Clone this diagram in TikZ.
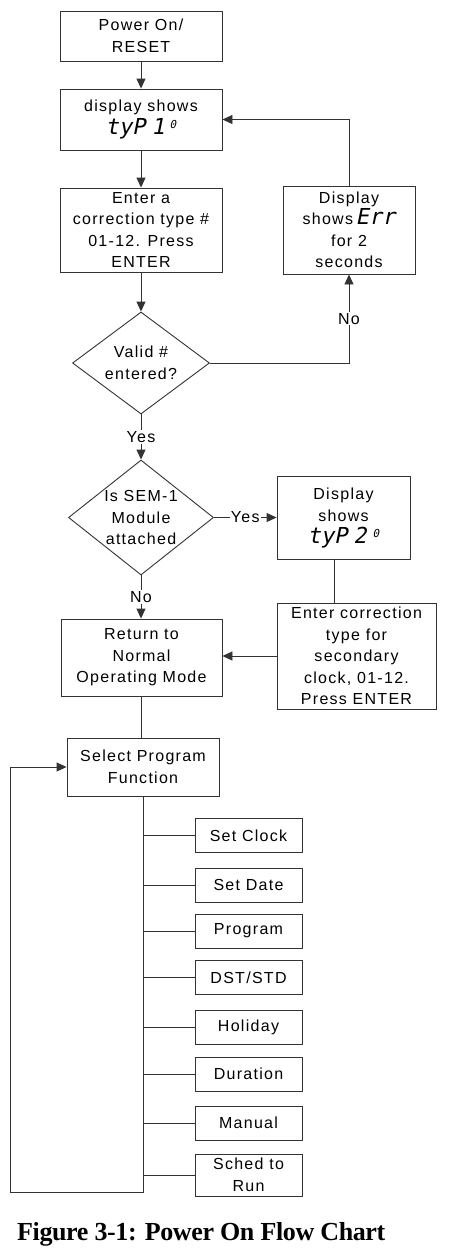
\documentclass[tikz,border=0pt]{standalone}
\usepackage{fontspec}
\setmainfont{Liberation Sans}
\newfontfamily\boxfont{Liberation Sans}[LetterSpace=8]
\newfontfamily\segfont{DejaVu Sans Mono}[FakeSlant=0.2]
\newfontfamily\capfont{Liberation Serif}[LetterSpace=-1.5]
\usetikzlibrary{shapes.geometric,arrows.meta,calc}
\definecolor{linec}{HTML}{333333}
\newcommand{\segtxt}[1]{{\segfont\fontsize{22}{22}\selectfont #1}}
\newcommand{\segsup}{\raisebox{6pt}{\segfont\fontsize{11}{11}\selectfont 0}}
\tikzset{
  box/.style={draw=linec, line width=0.9pt, rectangle, align=center,
    font=\boxfont\fontsize{16}{21.5}\selectfont, inner sep=0pt},
  dia/.style={draw=linec, line width=0.9pt, diamond, inner sep=0pt},
  arr/.style={draw=linec, line width=0.9pt, -{Triangle[length=10pt,width=9pt]}},
  con/.style={draw=linec, line width=0.9pt},
  lab/.style={fill=white, inner sep=1pt, font=\boxfont\fontsize{16}{18}\selectfont},
  fbox/.style={box, minimum width=107pt, minimum height=34pt}
}
\begin{document}
\begin{tikzpicture}[x=1pt,y=-1pt]
\useasboundingbox (0,0) rectangle (449,1256);
\fill[white] (0,0) rectangle (449,1256);
% main column
\node[box, minimum width=162pt, minimum height=50pt] (power) at (141,36) {Power On/\\RESET};
\node[box, minimum width=162pt, minimum height=61pt] (disp1) at (141,119.5)
  {display shows\\[1pt]\segtxt{tyP\hspace{6pt}1}\hspace{5pt}\segsup};
\node[box, minimum width=162pt, minimum height=84pt] (enter) at (141,230)
  {Enter a\\correction type \#\\01-12. Press\\ENTER};
\node[box, minimum width=132pt, minimum height=88pt] (err) at (349,230)
  {Display\\shows\,\segtxt{Err}\\for 2\\seconds};
\node[dia, minimum width=137pt, minimum height=102pt,
  label={[align=center, font=\boxfont\fontsize{16}{21.5}\selectfont]center:Valid \#\\entered?}] (valid) at (141,363) {};
\node[dia, minimum width=145pt, minimum height=115pt,
  label={[align=center, font=\boxfont\fontsize{16}{21.5}\selectfont]center:Is SEM-1\\Module\\attached}] (sem) at (141,517.5) {};
\node[box, minimum width=133pt, minimum height=83pt] (disp2) at (343.5,518)
  {Display\\shows\\[1pt]\segtxt{tyP\hspace{6pt}2}\hspace{6pt}\segsup};
\node[box, minimum width=159pt, minimum height=106pt] (corr) at (356.5,656)
  {Enter correction\\type for\\secondary\\clock, 01-12.\\Press ENTER};
\node[box, minimum width=161pt, minimum height=77pt] (ret) at (141.5,657.5)
  {Return to\\Normal\\Operating Mode};
\node[box, minimum width=152pt, minimum height=58pt] (sel) at (143,767)
  {Select Program\\Function};
% function boxes
\node[fbox] (f1) at (248.5,835.5) {Set Clock};
\node[fbox] (f2) at (248.5,885) {Set Date};
\node[fbox] (f3) at (248.5,931) {Program};
\node[fbox] (f4) at (248.5,977.5) {DST/STD};
\node[fbox] (f5) at (248.5,1027) {Holiday};
\node[fbox] (f6) at (248.5,1074) {Duration};
\node[fbox] (f7) at (248.5,1123) {Manual};
\node[box, minimum width=107pt, minimum height=42pt] (f8) at (248.5,1175) {Sched to\\Run};
% connectors
\draw[arr] (power) -- (disp1);
\draw[arr] (disp1) -- (enter);
\draw[arr] (enter) -- (valid);
\draw[arr] (valid.east) -| node[lab, pos=0.75] {No} (err.south);
\draw[arr] (err.north) |- (disp1.east);
\draw[arr] (valid.south) -- node[lab] {Yes} (sem.north);
\draw[arr] (sem.east) -- node[lab] {Yes} (sem.east -| disp2.west);
\draw[con] ([xshift=-9.5pt]disp2.south) -- ([xshift=-9.5pt]disp2.south |- corr.north);
\draw[arr] (sem.south) -- node[lab] {No} (sem.south |- ret.north);
\draw[arr] (corr.west) -- (corr.west -| ret.east);
\draw[con] (ret.south) -- (ret.south |- sel.north);
\coordinate (bot) at (143,1192);
\coordinate (lft) at (10,1192);
\draw[con] (sel.south) -- (bot) -- (lft);
\draw[arr] (lft) |- (sel.west);
\foreach \n in {f1,f2,f3,f4,f5,f6,f7,f8}
  \draw[con] (sel.south |- \n.west) -- (\n.west);
% caption
\node[anchor=base west, inner sep=0pt, font=\capfont\bfseries\fontsize{26}{26}\selectfont] (cap) at (17,1240)
  {Figure 3-1: Power On Flow Chart};
\end{tikzpicture}
\end{document}
